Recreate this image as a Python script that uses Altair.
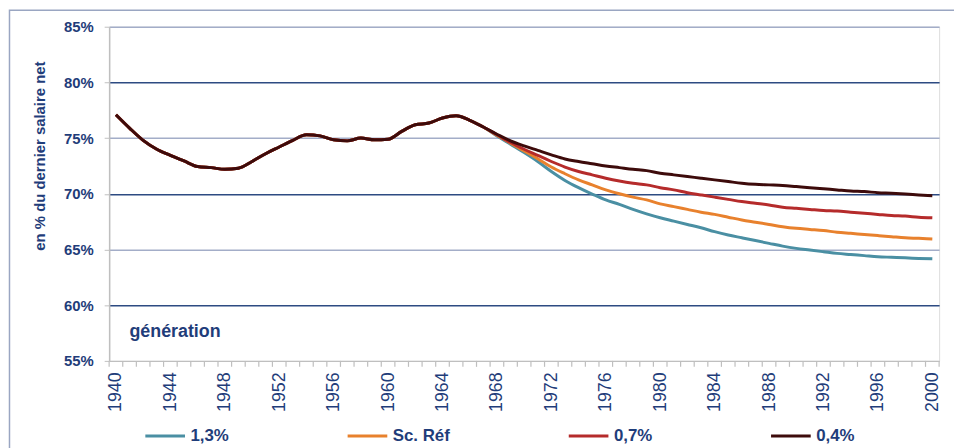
import altair as alt
import pandas as pd

# ---- data ----
series_names = ["1,3%", "Sc. Réf", "0,7%", "0,4%"]
series_colors = ["#4a8fa3", "#e8812d", "#b52b2b", "#3d0b0b"]

years_common = list(range(1940, 1968))
common = [77.1, 75.9, 74.8, 74.0, 73.45, 72.95, 72.45, 72.35, 72.2, 72.3,
          72.9, 73.6, 74.2, 74.8, 75.3, 75.2, 74.85, 74.75, 75.0, 74.85,
          74.9, 75.6, 76.2, 76.35, 76.8, 77.0, 76.6, 76.0]

years_tail = list(range(1968, 2001))
tail_13 = [75.2, 74.45, 73.7, 72.9, 72.0, 71.2, 70.55, 69.98, 69.45, 69.05,
           68.6, 68.2, 67.85, 67.55, 67.25, 66.95, 66.6, 66.3, 66.05, 65.8,
           65.55, 65.3, 65.1, 64.95, 64.8, 64.65, 64.55, 64.45, 64.35, 64.3,
           64.25, 64.2, 64.16]
tail_ref = [75.25, 74.55, 73.85, 73.15, 72.4, 71.8, 71.25, 70.8, 70.35, 70.0,
            69.7, 69.45, 69.1, 68.85, 68.6, 68.35, 68.15, 67.9, 67.65, 67.45,
            67.25, 67.05, 66.9, 66.8, 66.7, 66.55, 66.45, 66.35, 66.25, 66.15,
            66.05, 66.0, 65.94]
tail_07 = [75.3, 74.6, 74.0, 73.45, 72.9, 72.4, 72.0, 71.7, 71.4, 71.15,
           70.95, 70.8, 70.55, 70.35, 70.1, 69.9, 69.7, 69.5, 69.3, 69.15,
           69.0, 68.8, 68.7, 68.6, 68.5, 68.45, 68.35, 68.25, 68.15, 68.05,
           68.0, 67.9, 67.84]
tail_04 = [75.35, 74.75, 74.3, 73.9, 73.5, 73.13, 72.9, 72.7, 72.5, 72.35,
           72.2, 72.08, 71.85, 71.7, 71.55, 71.4, 71.25, 71.1, 70.95, 70.85,
           70.8, 70.75, 70.65, 70.55, 70.45, 70.35, 70.25, 70.2, 70.1, 70.05,
           69.98, 69.9, 69.83]

x_label_years = list(range(1940, 2001, 4))
y_ticks = [55, 60, 65, 70, 75, 80, 85]
tick_bounds = [y - 0.5 for y in range(1940, 2002)]

tails = [tail_13, tail_ref, tail_07, tail_04]
rows = []
for name, tail in zip(series_names, tails):
    for yr, v in zip(years_common + years_tail, common + tail):
        rows.append({"annee": yr, "valeur": v, "serie": name})
df = pd.DataFrame(rows)

NAVY = "#1f3d7a"
FONT = "Liberation Sans"
W, H = 837, 337

xscale = alt.Scale(domain=[1939.5, 2000.5], nice=False, zero=False)

x_axis = alt.Axis(values=x_label_years, format="d", ticks=False, grid=False,
                  labelAngle=270, labelAlign="right", labelBaseline="middle",
                  labelPadding=11, labelFont=FONT, labelFontSize=18,
                  labelColor=NAVY, labelFlush=False, labelOverlap=False,
                  domainColor="#bfbfbf", domainWidth=1.5,
                  title="génération", titleX=20, titleY=-30,
                  titleAlign="left", titleBaseline="middle", titleAngle=0,
                  titleFont=FONT, titleFontSize=18, titleFontWeight="bold",
                  titleColor=NAVY)

lines = alt.Chart(df).mark_line(strokeWidth=3, interpolate="monotone").encode(
    x=alt.X("annee:Q", scale=xscale, axis=x_axis),
    y=alt.Y("valeur:Q", scale=alt.Scale(domain=[55, 85], nice=False, zero=False),
            axis=alt.Axis(values=y_ticks, labelExpr="datum.value + '%'",
                          labelFont=FONT, labelFontSize=15, labelFontWeight="bold",
                          labelColor=NAVY, labelPadding=11, tickSize=5,
                          tickColor="#bfbfbf", domainColor="#bfbfbf", domainWidth=1.5,
                          gridColor={"condition": {"test": "datum.value % 10 == 0",
                                                   "value": "#2d4b82"},
                                     "value": "#a3adc8"},
                          gridOpacity={"condition": {"test": "datum.value == 55",
                                                     "value": 0},
                                       "value": 1},
                          gridWidth=1.5,
                          title="en % du dernier salaire net",
                          titleX=-70, titleY=130, titleAngle=270,
                          titleAlign="center", titleBaseline="middle",
                          titleFont=FONT, titleFontSize=15, titleFontWeight="bold",
                          titleColor=NAVY)),
    color=alt.Color("serie:N",
                    scale=alt.Scale(domain=series_names, range=series_colors),
                    sort=series_names,
                    legend=alt.Legend(orient="none", legendX=35, legendY=391,
                                      direction="horizontal", title=None,
                                      symbolType="stroke", symbolSize=1600,
                                      symbolStrokeWidth=3, labelFont=FONT,
                                      labelFontSize=17, labelFontWeight="bold",
                                      labelColor=NAVY, labelOffset=4,
                                      columnPadding=113, padding=0)),
    order=alt.Order("serie:N", sort="ascending"),
)

ticks = alt.Chart(pd.DataFrame({"annee": tick_bounds})).mark_rule(
    color="#bfbfbf", strokeWidth=1.2).encode(
    x=alt.X("annee:Q", scale=xscale, axis=x_axis),
    y=alt.value(H), y2=alt.value(H + 6),
)

frame = alt.Chart(alt.Data(values=[{}])).mark_rect(
    fillOpacity=0, stroke="#9aa6c2", strokeWidth=1.5).encode(
    x=alt.value(-100.5), x2=alt.value(900), y=alt.value(-16.5), y2=alt.value(H + 200),
)

chart = alt.layer(frame, lines, ticks).properties(
    width=W, height=H,
    autosize=alt.AutoSizeParams(type="none"),
    padding={"left": 102, "top": 17, "right": 15, "bottom": 88},
).configure_view(stroke=None).configure(background="white")

chart.save("out.html", embed_options={"renderer": "svg", "actions": False})
